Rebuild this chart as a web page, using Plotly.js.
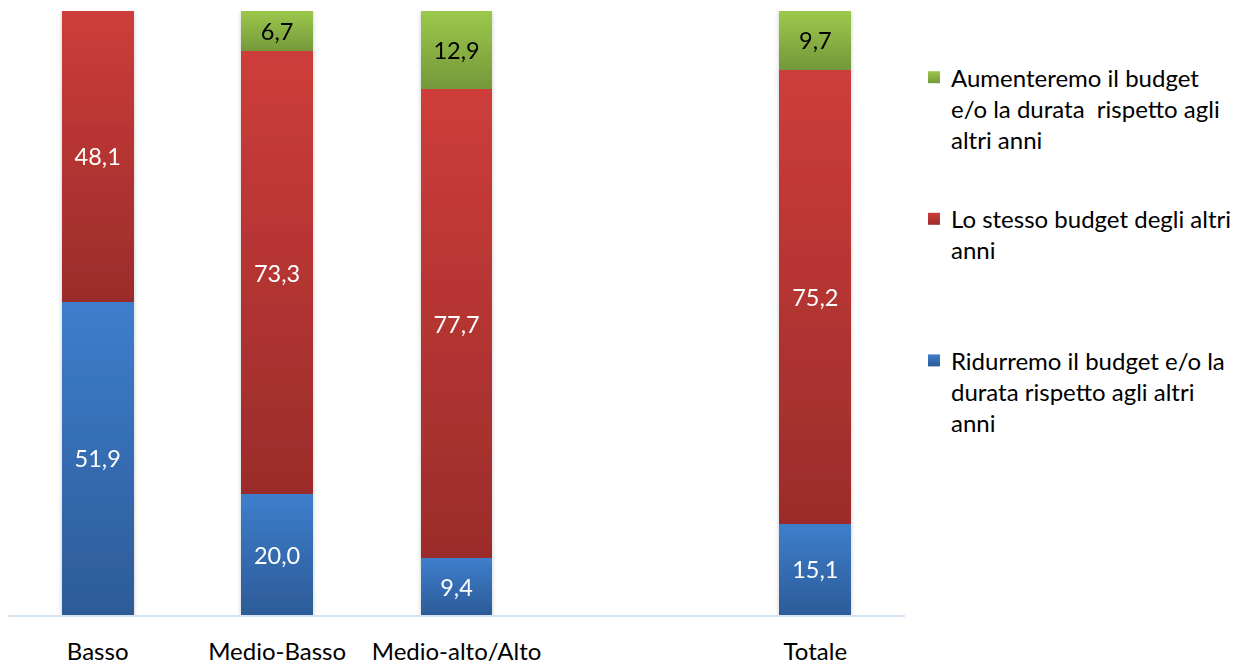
<!DOCTYPE html>
<html>
<head>
<meta charset="utf-8">
<script src="https://cdn.plot.ly/plotly-3.0.1.min.js"></script>
<style>html,body{margin:0;padding:0;background:#fff;}</style>
</head>
<body>
<div id="chart" style="width:1248px;height:666px;"></div>
<script>
const categories = ['Basso', 'Medio-Basso', 'Medio-alto/Alto', ' ', 'Totale'];
const ridurremo = [51.9, 20.0, 9.4, null, 15.1];
const stesso = [48.1, 73.3, 77.7, null, 75.2];
const aumenteremo = [null, 6.7, 12.9, null, 9.7];
const seriesNames = [
  'Ridurremo il budget e/o la<br>durata rispetto agli altri<br>anni',
  'Lo stesso budget degli altri<br>anni<br>&nbsp;',
  'Aumenteremo il budget<br>e/o la durata  rispetto agli<br>altri anni'
];

const fmt = v => (v === null ? '' : v.toFixed(1).replace('.', ','));
const FONT = 'Lato, Carlito, "Open Sans", sans-serif';

const gradients = [
  ['#3d7ecc', '#2d5b98'],
  ['#cd3d3a', '#9b2c2b'],
  ['#9cc84b', '#74983a']
];
const baseColors = ['#3570b8', '#b83533', '#89b043'];
const textColors = ['#ffffff', '#ffffff', '#000000'];
const values = [ridurremo, stesso, aumenteremo];
const ranks = [3, 2, 1];

const traces = values.map((vals, i) => ({
  type: 'bar',
  x: categories,
  y: vals,
  name: seriesNames[i],
  legendgroup: 'g' + i,
  legendrank: ranks[i],
  text: vals.map(fmt),
  textposition: 'inside',
  insidetextanchor: 'middle',
  textangle: 0,
  constraintext: 'none',
  textfont: {family: FONT, size: 23.5, color: textColors[i]},
  marker: {color: baseColors[i], line: {width: 0}},
  hoverinfo: 'skip'
}));

const layout = {
  width: 1248,
  height: 666,
  margin: {l: 8, r: 343, t: 11, b: 51, autoexpand: false},
  barmode: 'stack',
  bargap: 0.6,
  paper_bgcolor: '#ffffff',
  plot_bgcolor: '#ffffff',
  font: {family: FONT, size: 24, color: '#000000'},
  showlegend: true,
  legend: {
    x: 1.010, xanchor: 'left', y: 0.927, yanchor: 'top',
    traceorder: 'grouped',
    tracegroupgap: 45,
    font: {family: FONT, size: 24, color: '#000000'},
    itemwidth: 30,
    valign: 'top'
  },
  xaxis: {
    type: 'category',
    categoryorder: 'array',
    categoryarray: categories,
    showline: true,
    linecolor: '#d5e2f1',
    linewidth: 2,
    ticks: '',
    showgrid: false,
    zeroline: false,
    ticklabelstandoff: 14,
    tickfont: {family: FONT, size: 24, color: '#000000'},
    fixedrange: true
  },
  yaxis: {
    range: [0, 100],
    showticklabels: false,
    showgrid: false,
    zeroline: false,
    showline: false,
    ticks: '',
    fixedrange: true
  }
};

Plotly.newPlot('chart', traces, layout, {displayModeBar: false, staticPlot: true}).then(gd => {
  const svg = gd.querySelector('svg.main-svg');
  const NS = 'http://www.w3.org/2000/svg';
  let defs = svg.querySelector('defs');
  if (!defs) { defs = document.createElementNS(NS, 'defs'); svg.insertBefore(defs, svg.firstChild); }
  gradients.forEach((g, i) => {
    const lg = document.createElementNS(NS, 'linearGradient');
    lg.setAttribute('id', 'barGrad' + i);
    lg.setAttribute('x1', '0'); lg.setAttribute('y1', '0');
    lg.setAttribute('x2', '0'); lg.setAttribute('y2', '1');
    [[0, g[0]], [1, g[1]]].forEach(([o, c]) => {
      const s = document.createElementNS(NS, 'stop');
      s.setAttribute('offset', o);
      s.setAttribute('stop-color', c);
      lg.appendChild(s);
    });
    defs.appendChild(lg);
  });
  const f = document.createElementNS(NS, 'filter');
  f.setAttribute('id', 'barShadow');
  f.setAttribute('x', '-20%'); f.setAttribute('y', '-5%');
  f.setAttribute('width', '140%'); f.setAttribute('height', '110%');
  const ds = document.createElementNS(NS, 'feDropShadow');
  ds.setAttribute('dx', '0'); ds.setAttribute('dy', '1');
  ds.setAttribute('stdDeviation', '2');
  ds.setAttribute('flood-color', '#000');
  ds.setAttribute('flood-opacity', '0.22');
  f.appendChild(ds);
  defs.appendChild(f);

  const barTraces = gd.querySelectorAll('.barlayer .trace');
  barTraces.forEach((t, i) => {
    t.querySelectorAll('.point path').forEach(p => {
      p.style.fill = 'url(#barGrad' + i + ')';
    });
  });
  const barLayer = gd.querySelector('.barlayer');
  if (barLayer) barLayer.setAttribute('filter', 'url(#barShadow)');

  gd.querySelectorAll('.legend .traces').forEach(t => {
    const d = t.__data__;
    let idx = null;
    if (d && d[0] && d[0].trace) idx = d[0].trace.index;
    if (idx === null || idx === undefined) return;
    t.querySelectorAll('.legendpoints path').forEach(p => {
      p.style.fill = 'url(#barGrad' + idx + ')';
    });
    const txt = t.querySelector('.legendtext');
    if (txt) txt.setAttribute('transform', 'translate(-3,0)');
  });
});
</script>
</body>
</html>
